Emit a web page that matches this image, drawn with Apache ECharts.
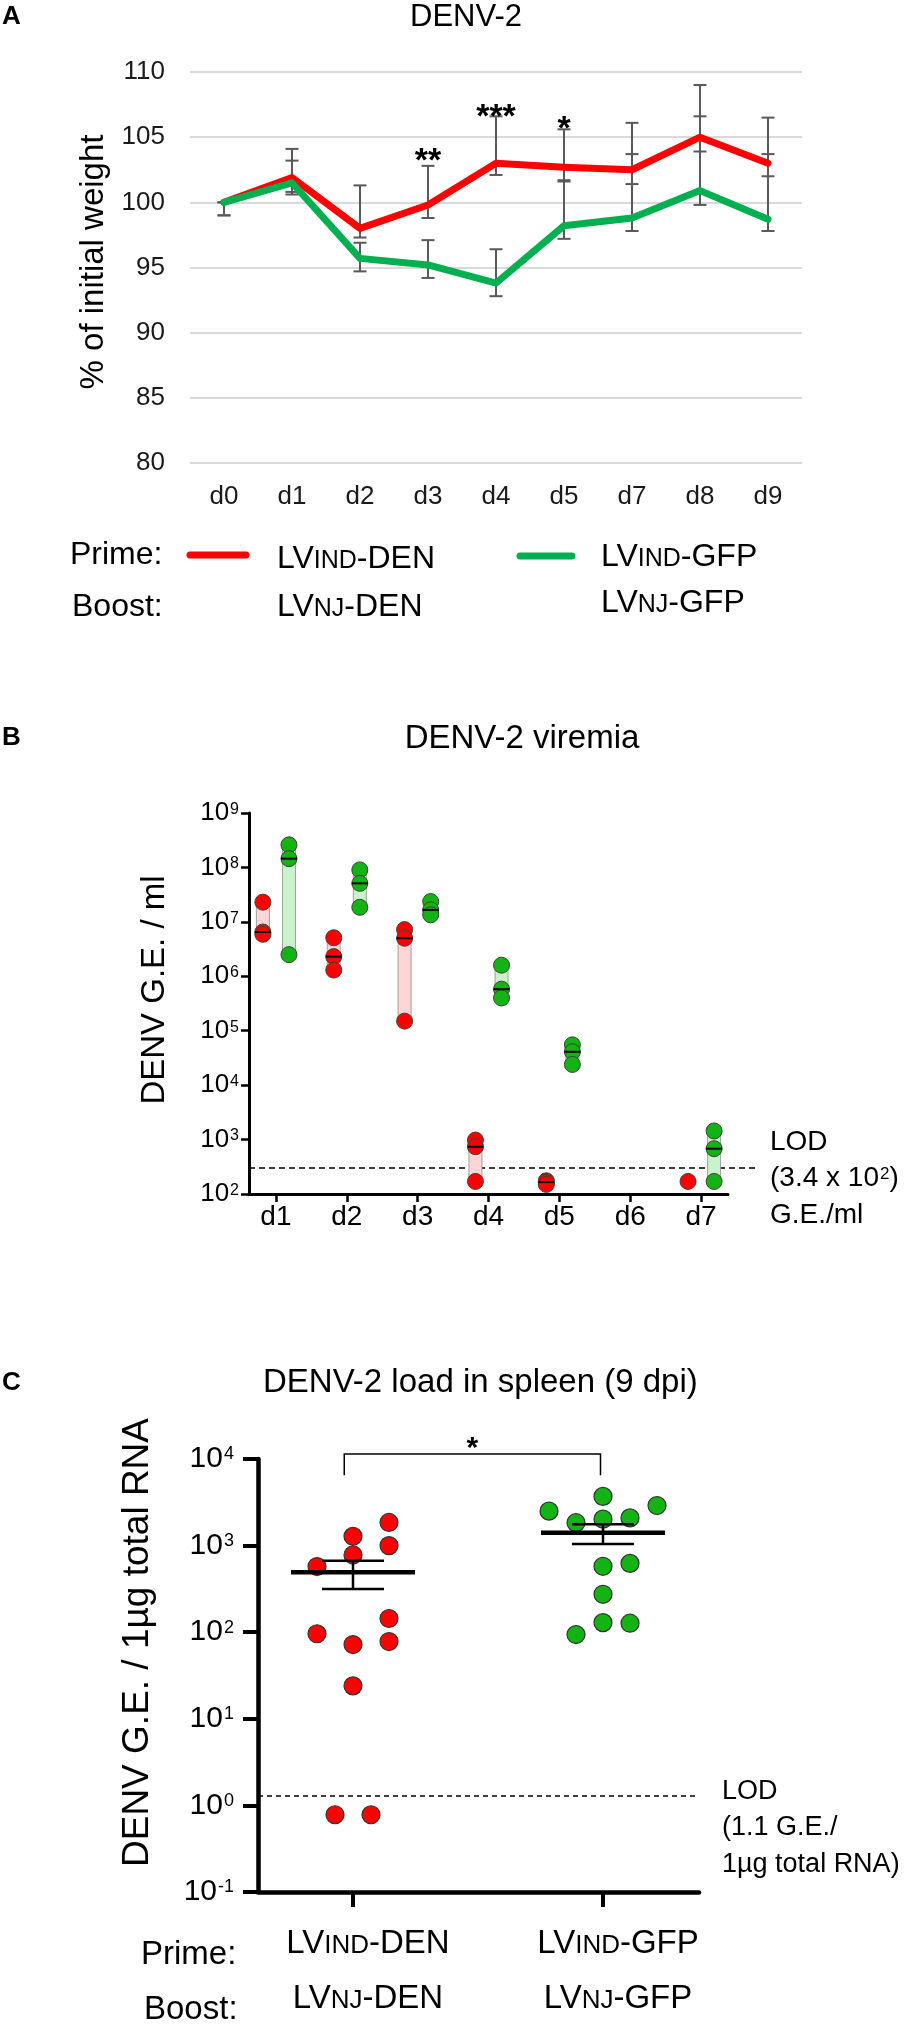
<!DOCTYPE html>
<html>
<head>
<meta charset="utf-8">
<title>DENV-2 challenge</title>
<script src="https://cdn.jsdelivr.net/npm/echarts@6.0.0/dist/echarts.min.js"></script>
<style>
  html, body { margin: 0; padding: 0; background: #fff; }
  #chart { width: 922px; height: 2026px; }
</style>
</head>
<body>
<div id="chart"></div>
<script>
// ---- A: body weight, % of initial weight ----
const days = ['d0', 'd1', 'd2', 'd3', 'd4', 'd5', 'd7', 'd8', 'd9'];
const weightDen = [100, 101.9, 98.0, 99.8, 103.0, 102.7, 102.5, 105.0, 103.0];
const weightGfp = [100, 101.5, 95.7, 95.2, 93.8, 98.2, 98.8, 100.9, 98.7];
const weightDenLow = [99.0, 100.8, 97.3, 98.8, 102.1, 101.7, 101.4, 103.9, 102.0];
const weightDenHigh = [100.0, 104.1, 101.3, 102.8, 106.6, 105.6, 106.1, 109.0, 106.5];
const weightGfpLow = [99.0, 100.6, 94.7, 94.2, 92.8, 97.2, 97.8, 99.8, 97.8];
const weightGfpHigh = [100.0, 103.2, 96.9, 97.1, 96.4, 101.6, 103.7, 106.6, 103.7];
const sigDays = ['d3', 'd4', 'd5'];
const sigMarks = ['**', '***', '*'];
const sigLevel = [103.7, 107.1, 106.2];

// ---- B: viremia, G.E./ml (3 mice per group) ----
const viremiaDays = [1, 2, 3, 4, 5, 6, 7];
const denDays = [1, 2, 3, 4, 5, 7];
const denViremia = [
  [2.3e7, 6.5e6, 5.9e6],
  [5.1e6, 2.3e6, 1.3e6],
  [7.2e6, 5.0e6, 1.5e5],
  [9.8e2, 7.4e2, 1.7e2],
  [1.75e2, 1.65e2, 1.5e2],
  [1.7e2]
];
const gfpDays = [1, 2, 3, 4, 5, 7];
const gfpViremia = [
  [2.6e8, 1.45e8, 2.5e6],
  [9.0e7, 5.1e7, 1.85e7],
  [2.36e7, 1.66e7, 1.35e7],
  [1.6e6, 5.8e5, 4.0e5],
  [5.5e4, 4.1e4, 2.4e4],
  [1.44e3, 6.8e2, 1.7e2]
];
const viremiaLod = 300;

// ---- C: spleen load 9 dpi, G.E. / 1µg total RNA ----
const spleenDen = [1850, 1280, 1000, 780, 573, 144, 96, 78, 72, 24, 0.78, 0.78];
const spleenGfp = [3700, 2900, 2500, 2090, 2020, 1840, 623, 577, 274, 129, 127, 94];
const spleenLod = 1.28;
const groupPrime = ['LVIND-DEN', 'LVIND-GFP'];
const groupBoost = ['LVNJ-DEN', 'LVNJ-GFP'];

// ---- layout / style ----
const FONT = '"Liberation Sans", Arial, Helvetica, sans-serif';
const RED = '#ff0000';
const GREEN_A = '#00b050';
const GREEN = '#12b312';
// horizontal spread of the dots (slot index) as laid out in the figure
const denSlots = [2, 0, 2, 0, -2, 2, -2, 2, 0, 0, -1, 1];
const gfpSlots = [0, 2, -2, 1, 0, -1, 1, 0, 0, 0, 1, -1];

const sc = t => t.replace(/^LV(IND|NJ)(.*)$/, 'LV{s|$1}$2');
const pow10 = v => '10{sup|' + Math.round(Math.log10(v)) + '}';
const median = a => a.slice().sort((x, y) => x - y)[Math.floor(a.length / 2)];
function meanSem(a) {
  const n = a.length;
  const m = a.reduce((s, v) => s + v, 0) / n;
  const sd = Math.sqrt(a.reduce((s, v) => s + (v - m) * (v - m), 0) / (n - 1));
  return [m, sd / Math.sqrt(n)];
}

function txt(x, y, text, size, extra) {
  return {
    type: 'text', x: x, y: y, silent: true,
    style: Object.assign({
      text: text, fontSize: size, fontFamily: FONT, fill: '#000',
      textAlign: 'left', textVerticalAlign: 'middle'
    }, extra || {})
  };
}
const smallCaps = size => ({ s: { fontSize: Math.round(size * 0.78), fontFamily: FONT, padding: [5, 0, 0, 0] } });
const supRich = (sup, lift) => ({ sup: { fontSize: sup, fontFamily: FONT, padding: [0, 0, lift, 1] } });

const chart = echarts.init(document.getElementById('chart'), null, { width: 922, height: 2026 });

// error bar with caps (panel A)
function errorBar(params, api) {
  const lo = api.coord([api.value(0), api.value(1)]);
  const hi = api.coord([api.value(0), api.value(2)]);
  const st = { stroke: '#595959', lineWidth: 2 };
  const w = 6.5;
  return {
    type: 'group', children: [
      { type: 'line', shape: { x1: lo[0], y1: lo[1], x2: hi[0], y2: hi[1] }, style: st },
      { type: 'line', shape: { x1: lo[0] - w, y1: lo[1], x2: lo[0] + w, y2: lo[1] }, style: st },
      { type: 'line', shape: { x1: hi[0] - w, y1: hi[1], x2: hi[0] + w, y2: hi[1] }, style: st }
    ]
  };
}

const B_OFF = 0.184;
const C_STEP_DEN = 0.072, C_STEP_GFP = 0.108;
const denStat = meanSem(spleenDen), gfpStat = meanSem(spleenGfp);

const option = {
  animation: false,
  backgroundColor: '#fff',
  grid: [
    { left: 190, top: 72, width: 612, height: 391 },
    { left: 249, top: 813, width: 479, height: 381 },
    { left: 258, top: 1459, width: 441, height: 444 }
  ],
  xAxis: [
    {
      gridIndex: 0, type: 'category', data: days, boundaryGap: true,
      axisLine: { show: false }, axisTick: { show: false },
      axisLabel: { interval: 0, fontSize: 26, fontFamily: FONT, color: '#1a1a1a', margin: 21 }
    },
    {
      gridIndex: 1, type: 'value', min: 0.62, max: 7.38,
      splitLine: { show: false },
      axisLine: { show: true, onZero: false, lineStyle: { color: '#000', width: 3 } },
      axisTick: { show: true, customValues: viremiaDays, length: 8, lineStyle: { color: '#000', width: 2.5 } },
      axisLabel: { customValues: viremiaDays, formatter: v => 'd' + v, fontSize: 28, fontFamily: FONT, color: '#000', margin: 9 }
    },
    {
      gridIndex: 2, type: 'value', min: 0.62, max: 2.384,
      splitLine: { show: false },
      axisLine: { show: true, onZero: false, lineStyle: { color: '#000', width: 4.5 } },
      axisTick: { show: true, customValues: [1, 2], length: 15, lineStyle: { color: '#000', width: 4 } },
      axisLabel: {
        customValues: [1, 2],
        formatter: v => sc(groupPrime[v - 1]) + '\n' + sc(groupBoost[v - 1]),
        fontSize: 33, fontFamily: FONT, color: '#000', lineHeight: 55, margin: 24,
        padding: [0, 0, 0, 30], rich: smallCaps(33)
      }
    }
  ],
  yAxis: [
    {
      gridIndex: 0, type: 'value', min: 80, max: 110, interval: 5,
      axisLine: { show: false }, axisTick: { show: false },
      splitLine: { lineStyle: { color: '#d9d9d9', width: 2 } },
      axisLabel: { fontSize: 26, fontFamily: FONT, color: '#1a1a1a', margin: 25 },
      name: '% of initial weight', nameLocation: 'middle', nameRotate: 90, nameGap: 76,
      nameTextStyle: { fontSize: 33, fontFamily: FONT, color: '#000', padding: [0, 0, 0, 11] }
    },
    {
      gridIndex: 1, type: 'log', logBase: 10, min: 100, max: 1e9,
      splitLine: { show: false }, minorTick: { show: false },
      axisLine: { show: true, onZero: false, lineStyle: { color: '#000', width: 3 } },
      axisTick: { show: true, length: 8, lineStyle: { color: '#000', width: 2.5 } },
      axisLabel: { formatter: pow10, fontSize: 26, fontFamily: FONT, color: '#000', margin: 10, rich: supRich(16, 7) },
      name: 'DENV G.E. / ml', nameLocation: 'middle', nameRotate: 90, nameGap: 78,
      nameTextStyle: { fontSize: 33, fontFamily: FONT, color: '#000', padding: [0, 0, 0, 27] }
    },
    {
      gridIndex: 2, type: 'log', logBase: 10, min: 0.1, max: 1e4,
      splitLine: { show: false }, minorTick: { show: false },
      axisLine: { show: true, onZero: false, lineStyle: { color: '#000', width: 4.5 } },
      axisTick: { show: true, length: 15, lineStyle: { color: '#000', width: 4 } },
      axisLabel: { formatter: pow10, fontSize: 30, fontFamily: FONT, color: '#000', margin: 24, rich: supRich(18, 9) },
      name: 'DENV G.E. / 1µg total RNA', nameLocation: 'middle', nameRotate: 90, nameGap: 102,
      nameTextStyle: { fontSize: 37, fontFamily: FONT, color: '#000', padding: [0, 0, 0, 66] }
    }
  ],
  graphic: [
    // panel A
    txt(2, 17, 'A', 26, { fontWeight: 'bold' }),
    txt(466, 17, 'DENV-2', 31, { textAlign: 'center' }),
    txt(70, 555, 'Prime:', 32),
    txt(72, 607, 'Boost:', 32),
    { type: 'line', silent: true, shape: { x1: 190, y1: 555, x2: 246, y2: 555 }, style: { stroke: RED, lineWidth: 7, lineCap: 'round' } },
    { type: 'line', silent: true, shape: { x1: 520, y1: 556, x2: 572, y2: 556 }, style: { stroke: GREEN_A, lineWidth: 7, lineCap: 'round' } },
    txt(277, 559, sc(groupPrime[0]), 32, { rich: smallCaps(32) }),
    txt(277, 607, sc(groupBoost[0]), 32, { rich: smallCaps(32) }),
    txt(601, 557, sc(groupPrime[1]), 32, { rich: smallCaps(32) }),
    txt(601, 603, sc(groupBoost[1]), 32, { rich: smallCaps(32) }),
    // panel B
    txt(2, 738, 'B', 26, { fontWeight: 'bold' }),
    txt(522, 739, 'DENV-2 viremia', 33, { textAlign: 'center' }),
    txt(770, 1142, 'LOD', 28),
    txt(770, 1178, '(3.4 x 10{sup|2})', 28, { rich: supRich(17, 8) }),
    txt(770, 1215, 'G.E./ml', 28),
    // panel C
    txt(2, 1383, 'C', 26, { fontWeight: 'bold' }),
    txt(263, 1383, 'DENV-2 load in spleen (9 dpi)', 33),
    txt(722, 1792, 'LOD', 27),
    txt(722, 1828, '(1.1 G.E./', 27),
    txt(722, 1865, '1µg total RNA)', 27),
    txt(141, 1955, 'Prime:', 33),
    txt(144, 2010, 'Boost:', 33)
  ],
  series: [
    // ----- A -----
    {
      type: 'custom', xAxisIndex: 0, yAxisIndex: 0, z: 2,
      data: days.map((d, i) => [i, weightDenLow[i], weightDenHigh[i]]),
      encode: { x: 0, y: [1, 2] }, renderItem: errorBar
    },
    {
      type: 'custom', xAxisIndex: 0, yAxisIndex: 0, z: 2,
      data: days.map((d, i) => [i, weightGfpLow[i], weightGfpHigh[i]]),
      encode: { x: 0, y: [1, 2] }, renderItem: errorBar
    },
    {
      name: 'LVIND-DEN', type: 'line', xAxisIndex: 0, yAxisIndex: 0, z: 3,
      data: weightDen, symbol: 'none',
      lineStyle: { color: RED, width: 7, cap: 'round', join: 'round' }, itemStyle: { color: RED }
    },
    {
      name: 'LVIND-GFP', type: 'line', xAxisIndex: 0, yAxisIndex: 0, z: 3,
      data: weightGfp, symbol: 'none',
      lineStyle: { color: GREEN_A, width: 7, cap: 'round', join: 'round' }, itemStyle: { color: GREEN_A }
    },
    {
      type: 'custom', xAxisIndex: 0, yAxisIndex: 0, z: 4,
      data: sigDays.map((d, i) => [days.indexOf(d), sigLevel[i], i]),
      encode: { x: 0, y: 1 },
      renderItem: (params, api) => {
        const p = api.coord([api.value(0), api.value(1)]);
        return {
          type: 'text', x: p[0], y: p[1] + 8,
          style: { text: sigMarks[api.value(2)], fontSize: 34, fontWeight: 'bold', fontFamily: FONT, fill: '#000', textAlign: 'center', textVerticalAlign: 'middle' }
        };
      }
    },
    // ----- B -----
    {
      type: 'custom', xAxisIndex: 1, yAxisIndex: 1, z: 1,
      data: [[0.62, viremiaLod]], encode: { x: 0, y: 1 },
      renderItem: (params, api) => {
        const a = api.coord([0.62, api.value(1)]);
        const b = api.coord([7.38, api.value(1)]);
        return { type: 'line', shape: { x1: a[0], y1: a[1], x2: b[0] + 29, y2: b[1] }, style: { stroke: '#000', lineWidth: 1.5, lineDash: [6, 4] } };
      }
    },
    {
      type: 'custom', xAxisIndex: 1, yAxisIndex: 1, z: 2,
      data: denDays.map((d, i) => [d - B_OFF, Math.min(...denViremia[i]), Math.max(...denViremia[i]), 0])
        .concat(gfpDays.map((d, i) => [d + B_OFF, Math.min(...gfpViremia[i]), Math.max(...gfpViremia[i]), 1])),
      encode: { x: 0, y: [1, 2] },
      renderItem: (params, api) => {
        if (api.value(1) === api.value(2)) return null;
        const lo = api.coord([api.value(0), api.value(1)]);
        const hi = api.coord([api.value(0), api.value(2)]);
        const green = api.value(3) === 1;
        return {
          type: 'rect', shape: { x: hi[0] - 6.5, y: hi[1], width: 13, height: lo[1] - hi[1] },
          style: { fill: green ? '#cbf3cb' : '#ffd6d6', stroke: '#8a8a8a', lineWidth: 0.8 }
        };
      }
    },
    {
      name: 'LVIND-DEN', type: 'scatter', xAxisIndex: 1, yAxisIndex: 1, z: 3,
      symbolSize: 16,
      data: [].concat(...denDays.map((d, i) => denViremia[i].map(v => [d - B_OFF, v]))),
      itemStyle: { color: RED, borderColor: '#404040', borderWidth: 1, opacity: 1 }
    },
    {
      name: 'LVIND-GFP', type: 'scatter', xAxisIndex: 1, yAxisIndex: 1, z: 3,
      symbolSize: 16,
      data: [].concat(...gfpDays.map((d, i) => gfpViremia[i].map(v => [d + B_OFF, v]))),
      itemStyle: { color: GREEN, borderColor: '#404040', borderWidth: 1, opacity: 1 }
    },
    {
      type: 'custom', xAxisIndex: 1, yAxisIndex: 1, z: 4,
      data: denDays.filter((d, i) => denViremia[i].length > 1).map(d => [d - B_OFF, median(denViremia[denDays.indexOf(d)])])
        .concat(gfpDays.map((d, i) => [d + B_OFF, median(gfpViremia[i])])),
      encode: { x: 0, y: 1 },
      renderItem: (params, api) => {
        const p = api.coord([api.value(0), api.value(1)]);
        return { type: 'line', shape: { x1: p[0] - 8, y1: p[1], x2: p[0] + 8, y2: p[1] }, style: { stroke: '#000', lineWidth: 2 } };
      }
    },
    // ----- C -----
    {
      type: 'custom', xAxisIndex: 2, yAxisIndex: 2, z: 1,
      data: [[0.62, spleenLod]], encode: { x: 0, y: 1 },
      renderItem: (params, api) => {
        const a = api.coord([0.62, api.value(1)]);
        const b = api.coord([2.384, api.value(1)]);
        return { type: 'line', shape: { x1: a[0], y1: a[1], x2: b[0], y2: b[1] }, style: { stroke: '#000', lineWidth: 1.5, lineDash: [5, 4] } };
      }
    },
    {
      name: 'LVIND-DEN', type: 'scatter', xAxisIndex: 2, yAxisIndex: 2, z: 3,
      symbolSize: 18,
      data: spleenDen.map((v, i) => [1 + denSlots[i] * C_STEP_DEN, v]),
      itemStyle: { color: RED, borderColor: '#333', borderWidth: 1.2, opacity: 1 }
    },
    {
      name: 'LVIND-GFP', type: 'scatter', xAxisIndex: 2, yAxisIndex: 2, z: 3,
      symbolSize: 18,
      data: spleenGfp.map((v, i) => [2 + gfpSlots[i] * C_STEP_GFP, v]),
      itemStyle: { color: GREEN, borderColor: '#333', borderWidth: 1.2, opacity: 1 }
    },
    {
      type: 'custom', xAxisIndex: 2, yAxisIndex: 2, z: 4,
      data: [[1, denStat[0], denStat[0] - denStat[1], denStat[0] + denStat[1]],
             [2, gfpStat[0], gfpStat[0] - gfpStat[1], gfpStat[0] + gfpStat[1]]],
      encode: { x: 0, y: [1, 2, 3] },
      renderItem: (params, api) => {
        const m = api.coord([api.value(0), api.value(1)]);
        const lo = api.coord([api.value(0), api.value(2)]);
        const hi = api.coord([api.value(0), api.value(3)]);
        const st = { stroke: '#000', lineWidth: 2.5 };
        return {
          type: 'group', children: [
            { type: 'line', shape: { x1: m[0] - 62, y1: m[1], x2: m[0] + 62, y2: m[1] }, style: { stroke: '#000', lineWidth: 4.5 } },
            { type: 'line', shape: { x1: lo[0], y1: lo[1], x2: hi[0], y2: hi[1] }, style: st },
            { type: 'line', shape: { x1: lo[0] - 31, y1: lo[1], x2: lo[0] + 31, y2: lo[1] }, style: st },
            { type: 'line', shape: { x1: hi[0] - 31, y1: hi[1], x2: hi[0] + 31, y2: hi[1] }, style: st }
          ]
        };
      }
    },
    {
      type: 'custom', xAxisIndex: 2, yAxisIndex: 2, z: 4,
      data: [[0.965, 1.99, 11400, 6500, 15700]],
      encode: { x: [0, 1], y: [2, 3] },
      renderItem: (params, api) => {
        const a = api.coord([api.value(0), api.value(3)]);
        const b = api.coord([api.value(0), api.value(2)]);
        const c = api.coord([api.value(1), api.value(2)]);
        const d = api.coord([api.value(1), api.value(3)]);
        const s = api.coord([(api.value(0) + api.value(1)) / 2, api.value(4)]);
        return {
          type: 'group', children: [
            { type: 'polyline', shape: { points: [a, b, c, d] }, style: { stroke: '#000', lineWidth: 1.5, fill: null } },
            { type: 'text', x: s[0], y: s[1] + 7, style: { text: '*', fontSize: 30, fontWeight: 'bold', fontFamily: FONT, fill: '#000', textAlign: 'center', textVerticalAlign: 'middle' } }
          ]
        };
      }
    }
  ]
};

chart.setOption(option);
</script>
</body>
</html>
